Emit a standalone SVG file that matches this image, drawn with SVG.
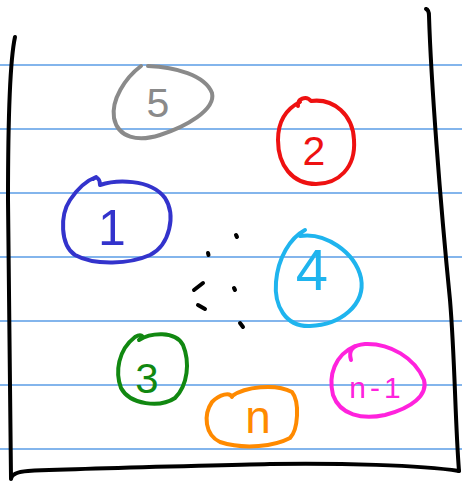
<svg xmlns="http://www.w3.org/2000/svg" width="462" height="482" viewBox="0 0 462 482">
<style>
.rule{stroke:#5a9de6;stroke-width:1.3;fill:none}
.frame{stroke:#000;stroke-width:4;fill:none;stroke-linecap:round;stroke-linejoin:round}
.loop{fill:none;stroke-width:4;stroke-linecap:round;stroke-linejoin:round}
.lbl{font-family:"Liberation Sans","DejaVu Sans",sans-serif;text-anchor:middle}
.dot{stroke:#000;stroke-width:4;stroke-linecap:round}
</style>
<rect width="462" height="482" fill="#fff"/>
<g id="rules">
<line class="rule" x1="0" y1="65" x2="462" y2="65"/>
<line class="rule" x1="0" y1="129" x2="462" y2="129"/>
<line class="rule" x1="0" y1="193" x2="462" y2="193"/>
<line class="rule" x1="0" y1="257" x2="462" y2="257"/>
<line class="rule" x1="0" y1="321" x2="462" y2="321"/>
<line class="rule" x1="0" y1="385" x2="462" y2="385"/>
<line class="rule" x1="0" y1="449" x2="462" y2="449"/>
</g>
<g id="frame">
<path class="frame" d="M15,37 C10,60 8,130 8,200 C8,280 10,380 11,478"/>
<path class="frame" d="M11,479 Q12,472 28,471 C100,468 200,466 270,464 C340,463 420,465 459,471"/>
<path class="frame" d="M426,9 Q429,10 429,16 C431,80 440,200 450,300 C455,360 455,420 459,471"/>
</g>
<g id="connectors">
<line class="dot" x1="236" y1="235" x2="237" y2="237"/>
<line class="dot" x1="208" y1="253" x2="208.5" y2="255"/>
<line class="dot" x1="194" y1="290" x2="203" y2="283"/>
<line class="dot" x1="234" y1="288" x2="235" y2="290"/>
<line class="dot" x1="198" y1="305" x2="205" y2="309"/>
<line class="dot" x1="240" y1="323" x2="243" y2="327"/>
</g>
<g id="node5">
<path class="loop" stroke="#8a8a8a" d="M148,66 C175,67 205,75 212,93 C216,110 185,127 160,135 C138,142 118,138 114,118 C111,100 125,78 141,66"/>
<text class="lbl" x="158" y="117" font-size="41" fill="#8a8a8a">5</text>
</g>
<g id="node2">
<path class="loop" stroke="#ee1111" d="M298,106 C297,99 306,95 311,101 C334,98 353,115 354,140 C356,168 338,184 316,184 C292,184 278,165 278,140 C278,120 288,108 300,102"/>
<text class="lbl" x="314" y="165" font-size="41" fill="#ee1111">2</text>
</g>
<g id="node1">
<path class="loop" stroke="#3333cc" d="M100,185 C100,178 96,176 93,179 M100,185 C115,180 150,178 165,198 C176,215 170,245 150,255 C130,264 95,266 75,255 C60,245 60,215 70,200 C78,188 88,180 96,177"/>
<text class="lbl" x="112" y="245" font-size="50" fill="#3333cc">1</text>
</g>
<g id="node4">
<path class="loop" stroke="#1fb4ee" d="M300,236 C325,232 355,252 361,278 C366,305 340,325 310,326 C285,327 274,305 276,282 C278,258 290,238 305,230"/>
<text class="lbl" x="312" y="290" font-size="58" fill="#1fb4ee">4</text>
</g>
<g id="node3">
<path class="loop" stroke="#118811" d="M139,340 C150,333 175,330 183,345 C190,362 188,385 175,398 C160,408 130,405 121,388 C115,372 118,350 135,337 C140,334 146,335 139,340"/>
<text class="lbl" x="147" y="393" font-size="42" fill="#118811">3</text>
</g>
<g id="noden">
<path class="loop" stroke="#ff8a00" d="M232,396 C245,387 275,383 292,392 C300,402 298,430 290,438 C275,446 245,450 220,442 C205,435 203,415 212,402 C220,394 230,392 232,397"/>
<text class="lbl" x="258" y="433" font-size="46" fill="#ff8a00">n</text>
</g>
<g id="noden1">
<path class="loop" stroke="#ff22dd" d="M351,360 C348,350 353,345 365,344 C390,343 415,358 424,380 C428,395 412,408 385,415 C362,420 340,415 333,395 C328,375 335,355 355,346"/>
<text class="lbl" x="377" y="398" font-size="30" letter-spacing="4" fill="#ff22dd">n-1</text>
</g>
</svg>
